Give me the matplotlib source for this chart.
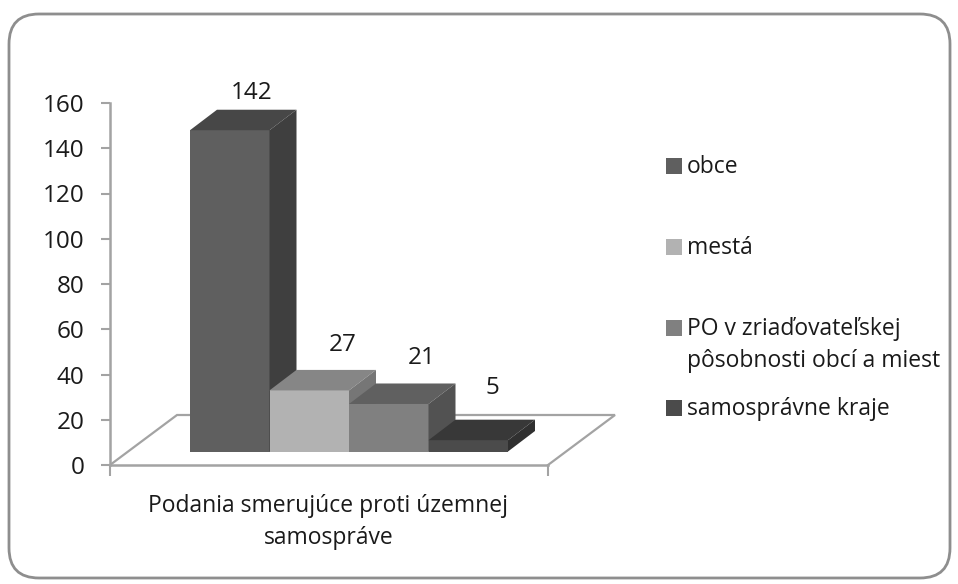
import matplotlib
matplotlib.use("Agg")
import matplotlib.pyplot as plt
from matplotlib.patches import FancyBboxPatch, Polygon, Rectangle

series = ["obce", "mestá", "PO v zriaďovateľskej\npôsobnosti obcí a miest", "samosprávne kraje"]
values = [142, 27, 21, 5]
yticks = [0, 20, 40, 60, 80, 100, 120, 140, 160]
category = "Podania smerujúce proti územnej\nsamospráve"

front = ["#5f5f5f", "#b2b2b2", "#808080", "#4b4b4b"]
top = ["#474747", "#868686", "#606060", "#383838"]
side = ["#3f3f3f", "#767676", "#525252", "#303030"]
label_dx = [22, 33, 33, 24]      # px, data-label offsets from the bar centre
label_dy = [37, 45, 46, 52]      # px, above the front top edge
legend_y = [167, 248, 345, 409]  # px

W, H = 958, 584
plt.rcParams["font.family"] = ["Open Sans", "DejaVu Sans"]
FS = 16.5
FS_NUM = 17.5
TXT = "#1a1a1a"
AX = "#a3a3a3"

fig = plt.figure(figsize=(W / 100, H / 100), dpi=100, facecolor="white")

# rounded frame in pixel coordinates
bg = fig.add_axes([0, 0, 1, 1])
bg.set_xlim(0, W)
bg.set_ylim(H, 0)
bg.axis("off")
bg.add_patch(FancyBboxPatch((9 + 30, 14 + 30), 941 - 60, 564 - 60,
                            boxstyle="round,pad=30,rounding_size=30",
                            fc="white", ec="#8e8e8e", lw=2))

# plot area: px x 110..548, px y 465..103
L, R, B, T = 110, 548, 465, 103
ax = fig.add_axes([L / W, 1 - B / H, (R - L) / W, (B - T) / H])
px_x = 79.5          # px per bar
px_y = (B - T) / 160  # px per unit
ax.set_xlim((L - 190) / px_x, (R - 190) / px_x)
ax.set_ylim(0, 160)
ax.patch.set_alpha(0)

for s in ["top", "right"]:
    ax.spines[s].set_visible(False)
for s in ["left", "bottom"]:
    ax.spines[s].set_color(AX)
    ax.spines[s].set_linewidth(1.8)
ax.set_yticks(yticks)
ax.set_xticks(ax.get_xlim())
ax.set_xticklabels([])
ax.tick_params(axis="y", length=6.5, width=1.5, color=AX, labelsize=FS_NUM, labelcolor=TXT, pad=12)
ax.tick_params(axis="x", length=8, width=1.5, color=AX)

dx = 27 / px_x
dy = 20.5 / px_y
base = (B - 451.5) / px_y
floor_dx = 67 / px_x
floor_dy = (B - 415) / px_y
x0, x1 = ax.get_xlim()

# floor outline
ax.plot([x0, x0 + floor_dx, x1 + floor_dx, x1], [0, floor_dy, floor_dy, 0],
        color=AX, lw=1.6, clip_on=False, zorder=1, solid_joinstyle="miter")

# 3D columns
for i, (v, f, t, s) in enumerate(zip(values, front, top, side)):
    z = 2 + i
    ax.bar(i + 0.5, v, width=1, bottom=base, color=f, lw=0, zorder=z)
    ya = base + v
    ax.add_patch(Polygon([(i, ya), (i + dx, ya + dy), (i + 1 + dx, ya + dy), (i + 1, ya)],
                         fc=t, ec="none", zorder=z, clip_on=False))
    ax.add_patch(Polygon([(i + 1, base), (i + 1 + dx, base + dy), (i + 1 + dx, ya + dy), (i + 1, ya)],
                         fc=s, ec="none", zorder=z, clip_on=False))
    ax.text(i + 0.5 + label_dx[i] / px_x, ya + label_dy[i] / px_y, str(v),
            ha="center", va="center", fontsize=FS_NUM, color=TXT, zorder=10, clip_on=False)

# category label
bg.text((L + R) / 2 - 0.5, 522, category, ha="center", va="center", fontsize=FS,
        color=TXT, linespacing=1.42)

# legend
box_y = [166, 247, 328, 408]
for name, c, ty, by in zip(series, front, legend_y, box_y):
    bg.add_patch(Rectangle((666, by - 8), 16, 16, fc=c, ec="none"))
    bg.text(687, ty, name, ha="left", va="center", fontsize=FS, color=TXT, linespacing=1.42)

fig.savefig("out.png", dpi=100, facecolor="white")
